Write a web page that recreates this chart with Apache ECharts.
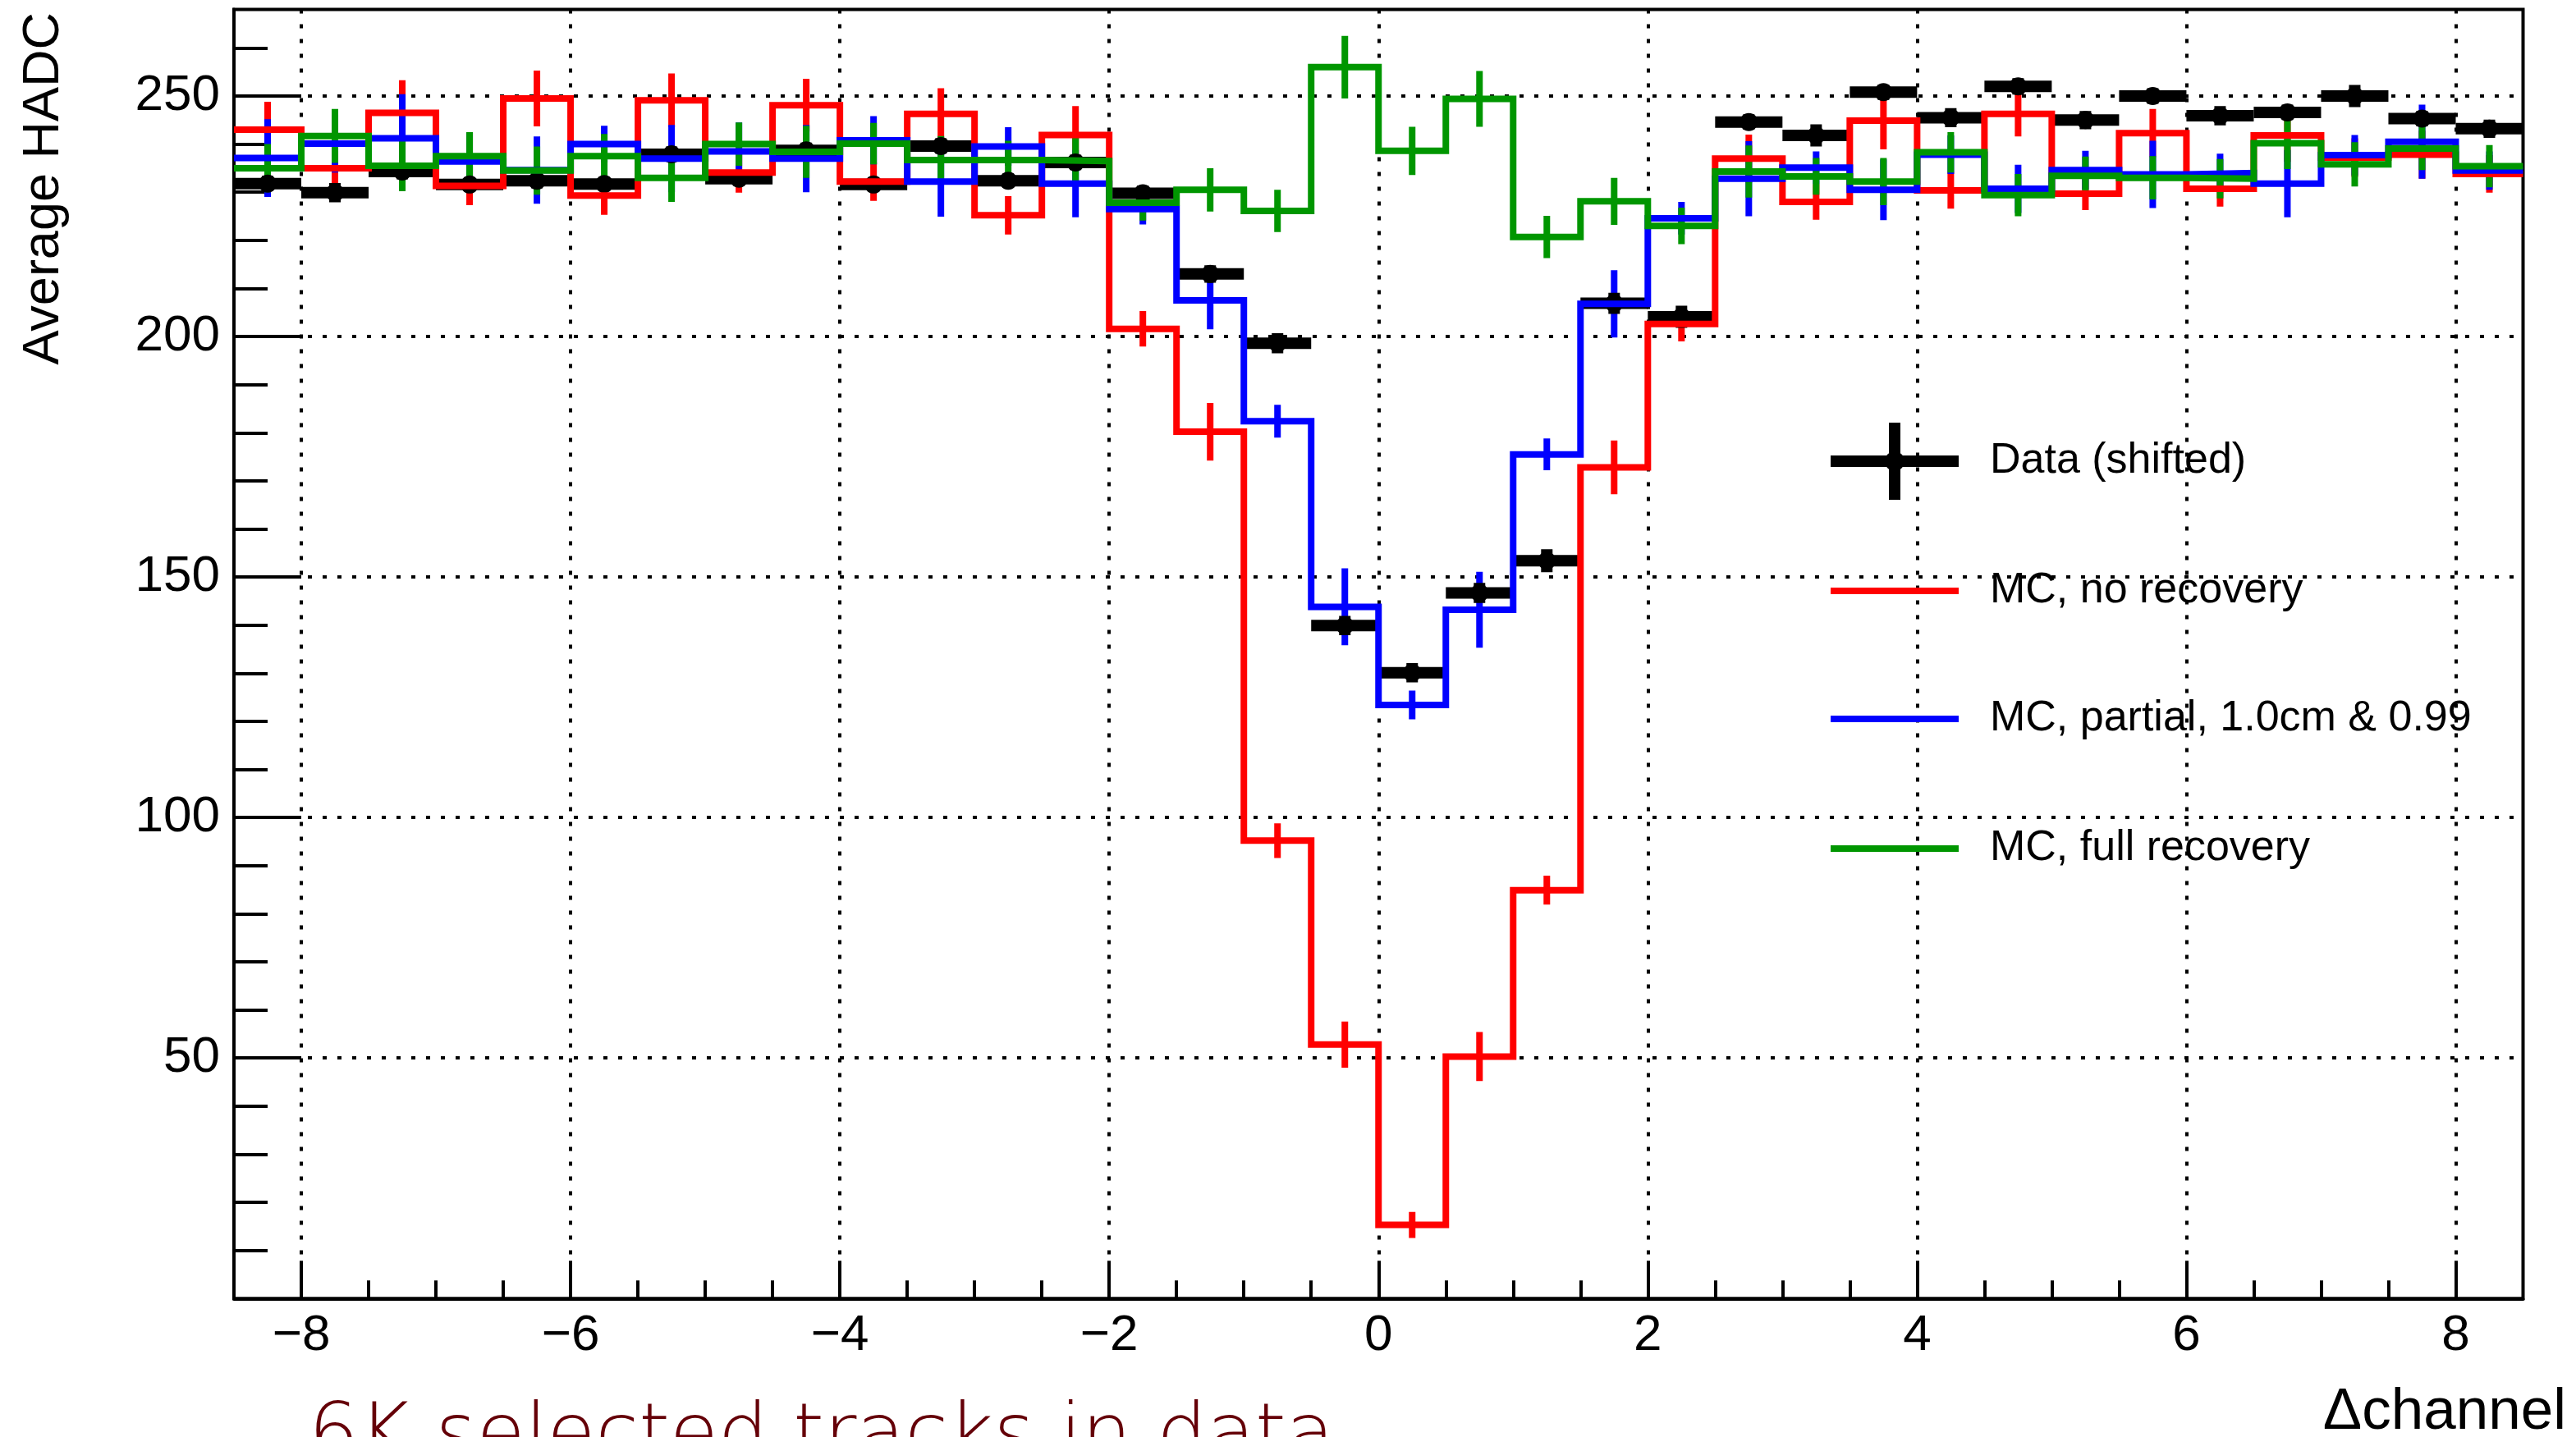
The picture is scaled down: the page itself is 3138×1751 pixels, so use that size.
<!DOCTYPE html>
<html>
<head>
<meta charset="utf-8">
<script src="https://cdn.jsdelivr.net/npm/echarts@6/dist/echarts.min.js"></script>
<style>
  html, body { margin: 0; padding: 0; background: #ffffff; }
  #chart { width: 3138px; height: 1751px; }
</style>
</head>
<body>
<div id="chart"></div>
<script>
// Bin centres of the Δchannel histogram (width 0.5 channel)
const binCenters = [
  -8.25, -7.75, -7.25, -6.75, -6.25, -5.75, -5.25, -4.75, -4.25, -3.75, -3.25, -2.75,
  -2.25, -1.75, -1.25, -0.75, -0.25, 0.25, 0.75, 1.25, 1.75, 2.25, 2.75, 3.25,
  3.75, 4.25, 4.75, 5.25, 5.75, 6.25, 6.75, 7.25, 7.75, 8.25
];
const binWidth = 0.5;

// Data (shifted): average HADC and its uncertainty
const dataShifted = [
  231.8, 229.9, 234.3, 231.6, 232.4, 231.7, 237.9, 232.8, 238.7, 231.6, 239.6, 232.4,
  236.2, 229.8, 213.0, 198.6, 139.9, 130.1, 146.7, 153.4, 206.9, 204.1, 244.6, 241.8,
  250.8, 245.5, 252.0, 245.0, 250.0, 245.9, 246.6, 250.0, 245.3, 243.2
];
const dataShiftedErr = [
  1.6, 2.0, 1.6, 1.5, 1.6, 1.5, 1.6, 1.5, 1.6, 1.5, 1.6, 1.5,
  1.6, 1.6, 1.8, 2.1, 2.0, 2.0, 2.1, 2.4, 2.2, 2.3, 1.6, 2.3,
  1.6, 2.0, 1.7, 1.9, 1.6, 2.0, 1.6, 2.3, 1.6, 1.9
];

// MC, no recovery
const mcNoRecovery = [
  243.0, 235.0, 246.5, 231.3, 249.5, 229.3, 249.1, 234.1, 248.1, 232.2, 246.3, 225.2,
  241.9, 201.6, 180.2, 95.2, 52.8, 15.3, 50.3, 84.9, 172.8, 202.6, 237.0, 228.0,
  244.9, 230.4, 246.3, 229.7, 242.3, 230.7, 241.8, 237.2, 237.8, 233.8
];
const mcNoRecoveryErr = [
  5.8, 3.6, 6.8, 4.0, 5.8, 4.0, 5.6, 4.2, 5.5, 4.0, 5.3, 4.0,
  6.0, 3.7, 6.0, 3.6, 4.8, 2.7, 5.1, 3.0, 5.6, 3.6, 5.0, 3.7,
  6.0, 3.8, 4.7, 3.4, 5.0, 3.7, 5.5, 4.0, 5.0, 3.9
];

// MC, partial recovery (1.0cm & 0.99)
const mcPartial = [
  237.1, 240.1, 241.2, 236.4, 234.6, 240.0, 237.0, 238.5, 237.0, 240.8, 232.2, 239.5,
  231.8, 226.5, 207.5, 182.4, 143.8, 123.4, 143.2, 175.5, 206.8, 224.6, 232.8, 235.1,
  230.5, 237.8, 230.7, 234.6, 233.7, 234.0, 231.8, 237.7, 240.5, 234.5
];
const mcPartialErr = [
  8.1, 6.0, 9.2, 6.0, 7.0, 3.8, 7.0, 6.0, 7.0, 5.0, 7.3, 4.0,
  7.0, 3.2, 6.0, 3.4, 8.0, 3.0, 7.9, 3.3, 7.0, 3.4, 7.8, 3.4,
  6.3, 4.0, 5.0, 4.0, 7.0, 4.0, 7.0, 4.2, 7.7, 4.0
];

// MC, full recovery
const mcFull = [
  235.0, 241.7, 235.5, 237.5, 234.5, 237.5, 233.0, 240.0, 238.4, 240.1, 236.7, 236.7,
  236.5, 227.8, 230.5, 226.1, 256.0, 238.6, 249.4, 220.7, 228.1, 223.0, 234.3, 233.3,
  232.2, 238.3, 229.4, 233.4, 233.0, 232.8, 240.2, 235.8, 239.1, 235.4
];
const mcFullErr = [
  5.0, 5.6, 5.3, 5.0, 5.0, 4.6, 5.0, 4.5, 5.4, 4.3, 5.0, 4.0,
  5.0, 3.7, 4.5, 4.4, 6.5, 5.0, 5.8, 4.4, 4.9, 3.8, 5.4, 3.8,
  4.9, 4.2, 4.4, 4.0, 4.5, 4.1, 5.4, 4.6, 4.5, 4.4
];

// Axis tick positions
const xLabelValues = [-8, -6, -4, -2, 0, 2, 4, 6, 8];
const xMinorTickValues = [
  -8, -7.5, -7, -6.5, -6, -5.5, -5, -4.5, -4, -3.5, -3, -2.5, -2, -1.5, -1, -0.5,
  0, 0.5, 1, 1.5, 2, 2.5, 3, 3.5, 4, 4.5, 5, 5.5, 6, 6.5, 7, 7.5, 8
];
const yLabelValues = [50, 100, 150, 200, 250];
const yMinorTickValues = [
  10, 20, 30, 40, 50, 60, 70, 80, 90, 100, 110, 120, 130,
  140, 150, 160, 170, 180, 190, 200, 210, 220, 230, 240, 250, 260
];

const NAME_DATA = 'Data (shifted)';
const NAME_NOREC = 'MC, no recovery';
const NAME_PARTIAL = 'MC, partial, 1.0cm & 0.99';
const NAME_FULL = 'MC, full recovery';

const COLOR_NOREC = '#ff0000';
const COLOR_PARTIAL = '#0000ff';
const COLOR_FULL = '#009600';

const FONT = 'Liberation Sans, Arial, Helvetica, sans-serif';

// Histogram outline: one point per left bin edge plus the final right edge
function stepPoints(values) {
  const pts = binCenters.map((c, i) => [c - binWidth / 2, values[i]]);
  const last = binCenters.length - 1;
  pts.push([binCenters[last] + binWidth / 2, values[last]]);
  return pts;
}

function errorPoints(values, errs) {
  return binCenters.map((c, i) => [c, values[i], errs[i]]);
}

function histSeries(name, color, values) {
  return {
    name: name,
    type: 'line',
    step: 'end',
    data: stepPoints(values),
    showSymbol: false,
    symbol: 'none',
    silent: true,
    clip: true,
    lineStyle: { color: color, width: 8, join: 'miter', cap: 'butt' },
    itemStyle: { color: color },
    emphasis: { disabled: true }
  };
}

function mcErrorSeries(name, color, values, errs) {
  return {
    name: name,
    type: 'custom',
    silent: true,
    clip: true,
    data: errorPoints(values, errs),
    encode: { x: 0, y: 1 },
    itemStyle: { color: color },
    renderItem: function (params, api) {
      const c = api.value(0), v = api.value(1), e = api.value(2);
      const top = api.coord([c, v + e]);
      const bot = api.coord([c, v - e]);
      return {
        type: 'line',
        shape: { x1: top[0], y1: top[1], x2: bot[0], y2: bot[1] },
        style: { stroke: color, lineWidth: 8, lineCap: 'butt' }
      };
    }
  };
}

const dataSeries = {
  name: NAME_DATA,
  type: 'custom',
  silent: true,
  clip: true,
  data: errorPoints(dataShifted, dataShiftedErr),
  encode: { x: 0, y: 1 },
  itemStyle: { color: '#000000' },
  renderItem: function (params, api) {
    const c = api.value(0), v = api.value(1), e = api.value(2);
    const left = api.coord([c - binWidth / 2, v]);
    const right = api.coord([c + binWidth / 2, v]);
    const top = api.coord([c, v + e]);
    const bot = api.coord([c, v - e]);
    const mid = api.coord([c, v]);
    return {
      type: 'group',
      children: [
        { type: 'line', shape: { x1: left[0], y1: left[1], x2: right[0], y2: right[1] },
          style: { stroke: '#000', lineWidth: 14, lineCap: 'butt' } },
        { type: 'line', shape: { x1: top[0], y1: top[1], x2: bot[0], y2: bot[1] },
          style: { stroke: '#000', lineWidth: 14, lineCap: 'butt' } },
        { type: 'circle', shape: { cx: mid[0], cy: mid[1], r: 11 },
          style: { fill: '#000' } }
      ]
    };
  }
};

// Legend icon for the data entry: horizontal + vertical bar with a dot
const dataIcon = 'path://M0,40 H156 V54 H0 Z M71,0 H85 V94 H71 Z M66,47 A12,12 0 1,1 90,47 A12,12 0 1,1 66,47 Z';

function legendEntry(name, icon, top, itemHeight) {
  return {
    left: 2230,
    top: top,
    orient: 'horizontal',
    padding: 0,
    itemWidth: 156,
    itemHeight: itemHeight,
    selectedMode: false,
    data: [{ name: name, icon: icon }],
    textStyle: { fontFamily: FONT, fontSize: 52, lineHeight: 60, color: '#000', padding: [0, 0, 0, 33] }
  };
}

const tickLine = { color: '#000', width: 4 };
const gridDots = { color: '#000', width: 4, type: [5, 13] };

const option = {
  animation: false,
  backgroundColor: '#ffffff',
  grid: {
    left: 285, right: 64.5, top: 11.5, bottom: 168.7,
    show: true, borderColor: '#000', borderWidth: 4, backgroundColor: 'transparent'
  },
  legend: [
    legendEntry(NAME_DATA, dataIcon, 515, 94),
    legendEntry(NAME_NOREC, 'rect', 690, 8),
    legendEntry(NAME_PARTIAL, 'rect', 846, 8),
    legendEntry(NAME_FULL, 'rect', 1004, 8)
  ],
  xAxis: [
    {
      type: 'value', min: -8.5, max: 8.5, position: 'bottom',
      axisLine: { show: true, onZero: false, lineStyle: tickLine },
      axisTick: { show: true, inside: true, length: 46, customValues: xLabelValues, lineStyle: tickLine },
      axisLabel: {
        show: true, customValues: xLabelValues, margin: 15,
        fontFamily: FONT, fontSize: 62, color: '#000',
        formatter: v => (v < 0 ? '\u2212' + Math.abs(v) : String(v))
      },
      splitLine: { show: true, lineStyle: gridDots },
      minorTick: { show: false }, minorSplitLine: { show: false }
    },
    {
      type: 'value', min: -8.5, max: 8.5, position: 'bottom',
      axisLine: { show: false, onZero: false },
      axisTick: { show: true, inside: true, length: 22, customValues: xMinorTickValues, lineStyle: tickLine },
      axisLabel: { show: false },
      splitLine: { show: false }
    }
  ],
  yAxis: [
    {
      type: 'value', min: 0, max: 268, position: 'left',
      axisLine: { show: true, onZero: false, lineStyle: tickLine },
      axisTick: { show: true, inside: true, length: 82, customValues: yLabelValues, lineStyle: tickLine },
      axisLabel: {
        show: true, customValues: yLabelValues, margin: 17, padding: [7, 0, 0, 0],
        fontFamily: FONT, fontSize: 62, color: '#000'
      },
      splitLine: { show: true, lineStyle: gridDots },
      minorTick: { show: false }, minorSplitLine: { show: false }
    },
    {
      type: 'value', min: 0, max: 268, position: 'left',
      axisLine: { show: false, onZero: false },
      axisTick: { show: true, inside: true, length: 41, customValues: yMinorTickValues, lineStyle: tickLine },
      axisLabel: { show: false },
      splitLine: { show: false }
    }
  ],
  graphic: [
    {
      type: 'text', x: 54, y: 15, rotation: Math.PI / 2, silent: true,
      style: {
        text: 'Average HADC', fontFamily: FONT, fontSize: 63, fill: '#000',
        align: 'right', textAlign: 'right', verticalAlign: 'middle', textVerticalAlign: 'middle'
      }
    },
    {
      type: 'text', x: 3126, y: 1721, silent: true,
      style: {
        text: '\u0394channel', fontFamily: FONT, fontSize: 71, fill: '#000',
        align: 'right', textAlign: 'right', verticalAlign: 'middle', textVerticalAlign: 'middle'
      }
    },
    {
      type: 'text', x: 376, y: 1753, silent: true,
      style: {
        text: '6K selected tracks in data', fontFamily: 'DejaVu Sans, Lato, sans-serif',
        fontWeight: 200, fontSize: 96, fill: '#650008',
        align: 'left', textAlign: 'left', verticalAlign: 'middle', textVerticalAlign: 'middle'
      }
    }
  ],
  series: [
    histSeries(NAME_NOREC, COLOR_NOREC, mcNoRecovery),
    mcErrorSeries('noRecoveryErr', COLOR_NOREC, mcNoRecovery, mcNoRecoveryErr),
    histSeries(NAME_PARTIAL, COLOR_PARTIAL, mcPartial),
    mcErrorSeries('partialErr', COLOR_PARTIAL, mcPartial, mcPartialErr),
    histSeries(NAME_FULL, COLOR_FULL, mcFull),
    mcErrorSeries('fullErr', COLOR_FULL, mcFull, mcFullErr),
    dataSeries
  ]
};

const chart = echarts.init(document.getElementById('chart'), null, { renderer: 'canvas' });
chart.setOption(option);
</script>
</body>
</html>
